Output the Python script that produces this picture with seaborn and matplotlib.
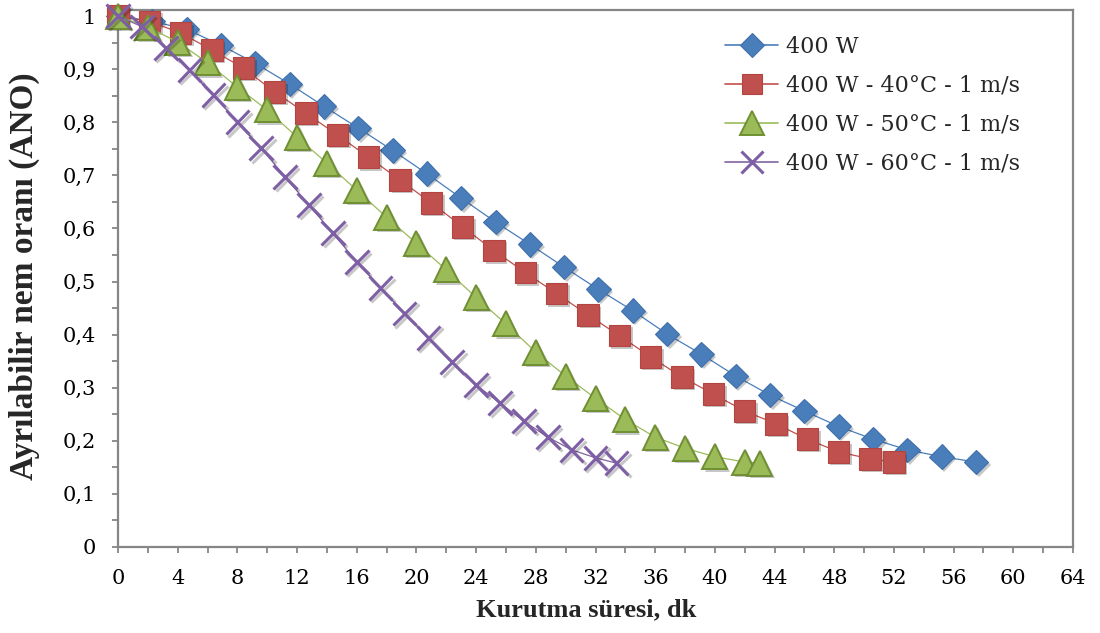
import matplotlib
matplotlib.use("Agg")
import matplotlib.pyplot as plt
import matplotlib.ticker as mticker
import matplotlib.patheffects as pe
from matplotlib.lines import Line2D
import seaborn as sns
import pandas as pd

# ---- data ----
series_names = ["400 W", "400 W - 40°C - 1 m/s", "400 W - 50°C - 1 m/s", "400 W - 60°C - 1 m/s"]

t_400 = [0, 2.3, 4.6, 6.9, 9.2, 11.5, 13.8, 16.1, 18.4, 20.7, 23.0, 25.3, 27.6,
         29.9, 32.2, 34.5, 36.8, 39.1, 41.4, 43.7, 46.0, 48.3, 50.6, 52.9, 55.2, 57.5]
ano_400 = [1.0, 0.99, 0.975, 0.945, 0.911, 0.872, 0.83, 0.789, 0.747, 0.703, 0.657, 0.612, 0.57,
           0.527, 0.485, 0.445, 0.401, 0.363, 0.322, 0.286, 0.256, 0.227, 0.203, 0.183, 0.17, 0.16]

t_40 = [0, 2.1, 4.2, 6.3, 8.4, 10.5, 12.6, 14.7, 16.8, 18.9, 21.0, 23.1, 25.2,
        27.3, 29.4, 31.5, 33.6, 35.7, 37.8, 39.9, 42.0, 44.1, 46.2, 48.3, 50.4, 52.0]
ano_40 = [1.0, 0.99, 0.968, 0.936, 0.902, 0.857, 0.817, 0.776, 0.734, 0.691, 0.648, 0.603, 0.558,
          0.517, 0.477, 0.437, 0.398, 0.358, 0.32, 0.288, 0.256, 0.232, 0.203, 0.179, 0.166, 0.16]

t_50 = [0, 2, 4, 6, 8, 10, 12, 14, 16, 18, 20, 22, 24, 26, 28, 30, 32, 34, 36, 38, 40, 42, 43]
ano_50 = [1.0, 0.979, 0.951, 0.912, 0.866, 0.823, 0.772, 0.723, 0.672, 0.621, 0.572, 0.522,
          0.47, 0.42, 0.367, 0.322, 0.28, 0.24, 0.207, 0.186, 0.17, 0.16, 0.158]

t_60 = [0, 1.6, 3.2, 4.8, 6.4, 8.0, 9.6, 11.2, 12.8, 14.4, 16.0, 17.6, 19.2, 20.8,
        22.4, 24.0, 25.6, 27.2, 28.8, 30.4, 32.0, 33.4]
ano_60 = [1.0, 0.98, 0.94, 0.898, 0.851, 0.80, 0.751, 0.697, 0.644, 0.591, 0.537, 0.488,
          0.44, 0.394, 0.348, 0.305, 0.271, 0.237, 0.207, 0.183, 0.168, 0.158]

x_ticks = list(range(0, 65, 4))
y_ticks = [0, 0.1, 0.2, 0.3, 0.4, 0.5, 0.6, 0.7, 0.8, 0.9, 1.0]
x_label = "Kurutma süresi, dk"
y_label = "Ayrılabilir nem oranı (ANO)"

# ---- styles ----
styles = [
    dict(color="#4A7EBB", marker="D", ms=12.5, mfc="#4A7EBB", mec="#3E70AC", mew=0.8),
    dict(color="#C0504D", marker="s", ms=15.5, mfc="#C0504D", mec="#B3443F", mew=0.8),
    dict(color="#9BBB59", marker="^", ms=18, mfc="#9BBB59", mec="#6F8F33", mew=1.4),
    dict(color="#8064A2", marker="x", ms=17, mfc="#8064A2", mec="#7E5FA5", mew=2.2),
]

sns.set_theme(style="white")
plt.rcParams["font.family"] = ["DejaVu Serif"]

fig = plt.figure(figsize=(11, 6.33), dpi=100)
L, R, B, T = 118, 1073, 547, 10
W, H = 1100, 633
ax = fig.add_axes([L / W, (H - B) / H, (R - L) / W, (B - T) / H])

data = [(t_400, ano_400), (t_40, ano_40), (t_50, ano_50), (t_60, ano_60)]
handles = []
for i, ((tx, ty), name, st) in enumerate(zip(data, series_names, styles)):
    df = pd.DataFrame({"t": tx, "v": ty})
    z = 3 + i
    # connecting line
    sns.lineplot(data=df, x="t", y="v", ax=ax, sort=False, estimator=None,
                 color=st["color"], linewidth=0.9, zorder=z, clip_on=False)
    # markers with a soft shadow
    if st["marker"] == "x":
        eff = [pe.SimpleLineShadow(offset=(1.8, -1.8), shadow_color="black", alpha=0.22), pe.Normal()]
    else:
        eff = [pe.SimplePatchShadow(offset=(1.8, -1.8), shadow_rgbFace="black", alpha=0.22), pe.Normal()]
    sns.lineplot(data=df, x="t", y="v", ax=ax, sort=False, estimator=None,
                 linestyle="", marker=st["marker"],
                 markersize=st["ms"], markerfacecolor=st["mfc"],
                 markeredgecolor=st["mec"], markeredgewidth=st["mew"], zorder=z + 0.5,
                 clip_on=False, path_effects=eff)
    handles.append(Line2D([], [], color=st["color"], linewidth=1.2, marker=st["marker"],
                          markersize=st["ms"] * 0.95, markerfacecolor=st["mfc"],
                          markeredgecolor=st["mec"], markeredgewidth=st["mew"]))

ax.set_xlim(0, 64)
ax.set_ylim(0, 1.0113)
ax.set_xticks(x_ticks)
ax.xaxis.set_minor_locator(mticker.MultipleLocator(2))
ax.set_yticks(y_ticks)
ax.yaxis.set_minor_locator(mticker.MultipleLocator(0.05))

def yfmt(v, pos):
    if abs(v) < 1e-9:
        return "0"
    if abs(v - 1) < 1e-9:
        return "1"
    return f"{v:.1f}".replace(".", ",")

ax.yaxis.set_major_formatter(mticker.FuncFormatter(yfmt))

spine_c = "#868686"
for s in ax.spines.values():
    s.set_visible(True)
    s.set_color(spine_c)
    s.set_linewidth(1.6)
    s.set_zorder(2)

ax.tick_params(axis="both", which="both", direction="out", color=spine_c, width=1.3,
               length=4, labelsize=15, labelcolor="black")
ax.tick_params(axis="x", which="both", bottom=True, pad=12)
ax.tick_params(axis="y", which="both", left=True, pad=12)

ax.set_xlabel(x_label, fontsize=19, fontweight="bold", family="Liberation Serif")
ax.set_ylabel(y_label, fontsize=24, fontweight="bold", family="Liberation Serif")
ax.xaxis.set_label_coords(0.49, -0.095)
ax.yaxis.set_label_coords(-0.082, 0.505)

leg = ax.legend(handles, series_names, loc="upper left",
                bbox_to_anchor=((725 - L) / (R - L), (B - 36) / (B - T)),
                frameon=False, fontsize=16, handlelength=2.4, handletextpad=0.35,
                labelspacing=0.76, borderaxespad=0, borderpad=0)

fig.savefig("out.png", dpi=100, facecolor="white")
